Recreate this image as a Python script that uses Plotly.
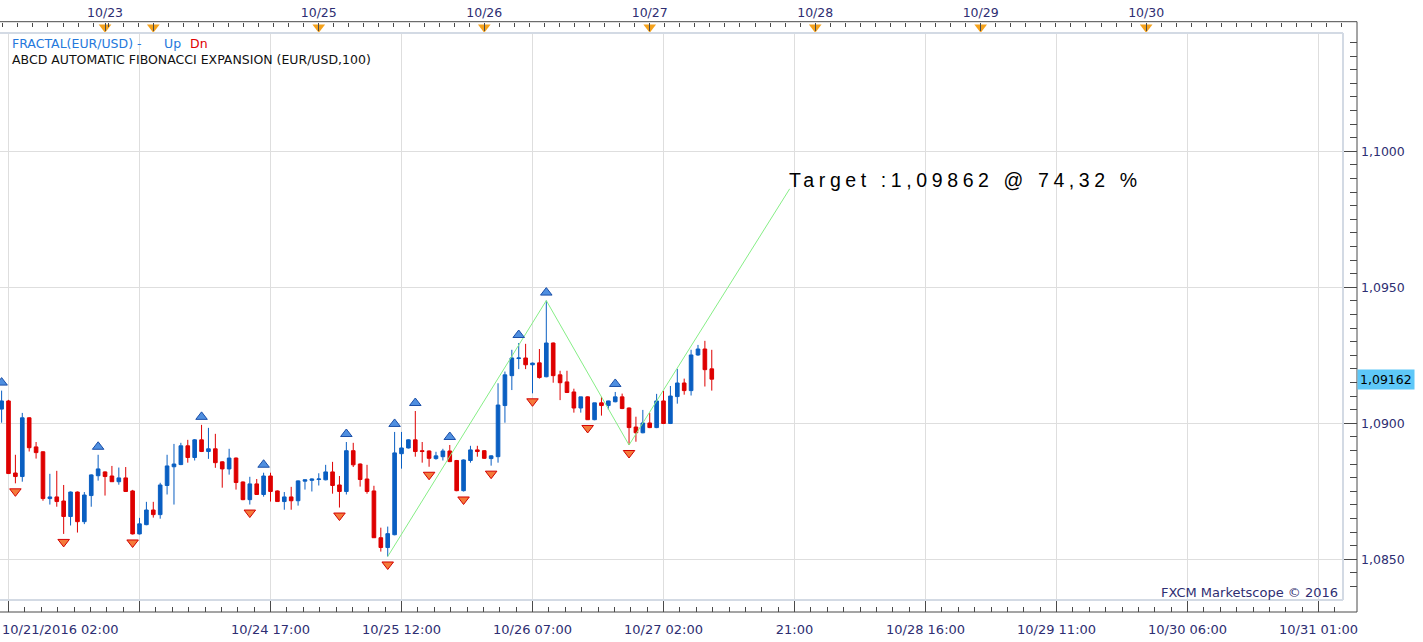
import plotly.graph_objects as go

# ---------------- data (hourly EUR/USD bars, weekend gap removed) ----------------
# bar index 0 = 10/21/2016 02:00
BAR_INDEX = list(range(-1, 103))
OPEN = [1.09052, 1.09082, 1.08817, 1.08804, 1.09020, 1.08913, 1.08895, 1.08723, 1.08729, 1.08714,
        1.08657, 1.08747, 1.08638, 1.08734, 1.08807, 1.08821, 1.08806, 1.08785, 1.08799, 1.08751,
        1.08593, 1.08627, 1.08681, 1.08664, 1.08771, 1.08840, 1.08848, 1.08917, 1.08874, 1.08939,
        1.08896, 1.08906, 1.08858, 1.08832, 1.08872, 1.08784, 1.08719, 1.08777, 1.08738, 1.08806,
        1.08751, 1.08712, 1.08729, 1.08715, 1.08787, 1.08790, 1.08793, 1.08792, 1.08821, 1.08773,
        1.08749, 1.08899, 1.08850, 1.08795, 1.08751, 1.08579, 1.08543, 1.08590, 1.08888, 1.08909,
        1.08939, 1.08899, 1.08898, 1.08870, 1.08877, 1.08898, 1.08863, 1.08752, 1.08863, 1.08902,
        1.08899, 1.08870, 1.08877, 1.09065, 1.09175, 1.09238, 1.09240, 1.09215, 1.09222, 1.09171,
        1.09295, 1.09178, 1.09152, 1.09115, 1.09056, 1.09097, 1.09013, 1.09075, 1.09065, 1.09079,
        1.09097, 1.09056, 1.08986, 1.08965, 1.09001, 1.08984, 1.09082, 1.08999, 1.09098, 1.09148,
        1.09120, 1.09251, 1.09273, 1.09200]
HIGH = [1.09120, 1.09086, 1.08884, 1.09038, 1.09022, 1.08931, 1.08897, 1.08814, 1.08825, 1.08773,
        1.08749, 1.08749, 1.08747, 1.08812, 1.08884, 1.08823, 1.08843, 1.08837, 1.08839, 1.08755,
        1.08652, 1.08711, 1.08711, 1.08781, 1.08884, 1.08924, 1.08928, 1.08939, 1.08942, 1.08994,
        1.08983, 1.08961, 1.08860, 1.08906, 1.08874, 1.08786, 1.08803, 1.08795, 1.08818, 1.08818,
        1.08753, 1.08747, 1.08766, 1.08790, 1.08793, 1.08797, 1.08816, 1.08847, 1.08858, 1.08806,
        1.08931, 1.08928, 1.08852, 1.08847, 1.08770, 1.08616, 1.08620, 1.08968, 1.08968, 1.08941,
        1.09045, 1.08931, 1.08900, 1.08895, 1.08906, 1.08920, 1.08865, 1.08867, 1.08917, 1.08917,
        1.08901, 1.08882, 1.09147, 1.09190, 1.09270, 1.09295, 1.09292, 1.09223, 1.09273, 1.09451,
        1.09297, 1.09193, 1.09193, 1.09127, 1.09097, 1.09099, 1.09075, 1.09097, 1.09083, 1.09115,
        1.09109, 1.09058, 1.09024, 1.09049, 1.09038, 1.09108, 1.09119, 1.09137, 1.09200, 1.09164,
        1.09270, 1.09288, 1.09303, 1.09270]
LOW = [1.09002, 1.08814, 1.08779, 1.08785, 1.08896, 1.08870, 1.08715, 1.08701, 1.08693, 1.08593,
       1.08624, 1.08598, 1.08629, 1.08693, 1.08789, 1.08734, 1.08785, 1.08774, 1.08748, 1.08591,
       1.08591, 1.08625, 1.08653, 1.08649, 1.08738, 1.08701, 1.08846, 1.08855, 1.08863, 1.08894,
       1.08869, 1.08836, 1.08763, 1.08811, 1.08756, 1.08717, 1.08701, 1.08736, 1.08730, 1.08712,
       1.08712, 1.08682, 1.08682, 1.08697, 1.08756, 1.08749, 1.08771, 1.08790, 1.08741, 1.08690,
       1.08738, 1.08839, 1.08767, 1.08741, 1.08578, 1.08528, 1.08510, 1.08588, 1.08833, 1.08907,
       1.08877, 1.08855, 1.08840, 1.08866, 1.08863, 1.08857, 1.08750, 1.08749, 1.08855, 1.08877,
       1.08869, 1.08844, 1.08855, 1.09002, 1.09122, 1.09199, 1.09199, 1.09110, 1.09164, 1.09169,
       1.09149, 1.09085, 1.09111, 1.09039, 1.09039, 1.09012, 1.09011, 1.09028, 1.09050, 1.09077,
       1.09052, 1.08920, 1.08932, 1.08963, 1.08982, 1.08982, 1.08997, 1.08997, 1.09072, 1.09105,
       1.09102, 1.09248, 1.09135, 1.09120]
CLOSE = [1.09082, 1.08815, 1.08804, 1.09020, 1.08910, 1.08892, 1.08723, 1.08729, 1.08712, 1.08657,
         1.08747, 1.08638, 1.08736, 1.08810, 1.08832, 1.08804, 1.08785, 1.08799, 1.08749, 1.08593,
         1.08630, 1.08681, 1.08664, 1.08773, 1.08843, 1.08850, 1.08917, 1.08874, 1.08939, 1.08896,
         1.08906, 1.08855, 1.08832, 1.08872, 1.08782, 1.08719, 1.08777, 1.08738, 1.08806, 1.08749,
         1.08712, 1.08729, 1.08715, 1.08788, 1.08792, 1.08795, 1.08795, 1.08821, 1.08771, 1.08749,
         1.08899, 1.08847, 1.08793, 1.08749, 1.08579, 1.08543, 1.08594, 1.08891, 1.08909, 1.08939,
         1.08896, 1.08896, 1.08871, 1.08880, 1.08898, 1.08859, 1.08752, 1.08865, 1.08902, 1.08896,
         1.08871, 1.08880, 1.09067, 1.09178, 1.09240, 1.09240, 1.09215, 1.09221, 1.09168, 1.09295,
         1.09175, 1.09149, 1.09113, 1.09056, 1.09097, 1.09013, 1.09075, 1.09065, 1.09082, 1.09097,
         1.09054, 1.08984, 1.08965, 1.09001, 1.08984, 1.09082, 1.08999, 1.09100, 1.09148, 1.09120,
         1.09251, 1.09273, 1.09197, 1.09162]

UP_FRACTAL_BARS = [-1, 13, 28, 37, 49, 56, 59, 64, 74, 78, 88]
DN_FRACTAL_BARS = [1, 8, 18, 35, 48, 55, 61, 66, 70, 76, 84, 90]

ABCD_X = [55, 78, 90, 113.3]
ABCD_Y = [1.08510, 1.09451, 1.08920, 1.09862]
TARGET_TEXT = "Target :1,09862 @ 74,32 %"

BOTTOM_TICKS = [0, 19, 38, 57, 76, 95, 114, 133, 152, 171, 190]
BOTTOM_LABELS = ["10/21/2016 02:00", "", "10/24 17:00", "10/25 12:00", "10/26 07:00",
                 "10/27 02:00", "21:00", "10/28 16:00", "10/29 11:00", "10/30 06:00", "10/31 01:00"]
TOP_TICKS = [14, 21, 45, 69, 93, 117, 141, 165]
TOP_LABELS = ["10/23", "", "10/25", "10/26", "10/27", "10/28", "10/29", "10/30"]
PRICE_TICKS = [1.085, 1.090, 1.095, 1.100]
PRICE_LABELS = ["1,0850", "1,0900", "1,0950", "1,1000"]
LAST_PRICE_LABEL = "1,09162"

# ---------------- styling / geometry ----------------
W, H = 1423, 642
PLOT_R, PLOT_T, PLOT_B = 1343, 33, 600
AX_TOP, AX_BOTTOM, AX_RIGHT = 21.7, 612, 1357
X_RANGE = [-1.233, 193.55]
Y_RANGE = [1.08350, 1.10435]

BLUE = "#0a5fc2"
RED = "#de0000"
NAVY = "#2e2e72"
AXIS_COL = "#4a4a4a"
GRID_COL = "#dedede"
BORDER_COL = "#d3dae4"
FONT = "DejaVu Sans"


def fx(p):
    return p / W


def fy(p):
    return 1 - p / H


ppp = (Y_RANGE[1] - Y_RANGE[0]) / (PLOT_B - PLOT_T)  # price per pixel

fig = go.Figure()

fig.add_trace(go.Candlestick(
    x=BAR_INDEX, open=OPEN, high=HIGH, low=LOW, close=CLOSE,
    increasing=dict(line=dict(color=BLUE, width=1), fillcolor=BLUE),
    decreasing=dict(line=dict(color=RED, width=1), fillcolor=RED),
    whiskerwidth=0, hoverinfo="skip", showlegend=False))

fig.add_trace(go.Scatter(
    x=ABCD_X, y=ABCD_Y, mode="lines", line=dict(color="#86ee86", width=1),
    hoverinfo="skip", showlegend=False))

pos = {b: i for i, b in enumerate(BAR_INDEX)}
fig.add_trace(go.Scatter(
    x=UP_FRACTAL_BARS, y=[HIGH[pos[b]] + 8 * ppp for b in UP_FRACTAL_BARS],
    mode="markers", marker=dict(symbol="triangle-up", size=10, color="#4f8fe0",
                                line=dict(color="#1b4fa8", width=1)),
    hoverinfo="skip", showlegend=False))
fig.add_trace(go.Scatter(
    x=DN_FRACTAL_BARS, y=[LOW[pos[b]] - 8 * ppp for b in DN_FRACTAL_BARS],
    mode="markers", marker=dict(symbol="triangle-down", size=10, color="#f47a3a",
                                line=dict(color="#d40000", width=1)),
    hoverinfo="skip", showlegend=False))

# day markers on the top time axis
fig.add_trace(go.Scatter(
    x=TOP_TICKS, y=[0.5] * len(TOP_TICKS), xaxis="x3", yaxis="y3", mode="markers",
    marker=dict(symbol="triangle-down", size=11, color="#f5a21c"),
    hoverinfo="skip", showlegend=False))

# helper traces so the decoration axes are drawn
fig.add_trace(go.Scatter(x=[BOTTOM_TICKS[0]], y=[PRICE_TICKS[0]], xaxis="x2", yaxis="y",
                         mode="markers", opacity=0, hoverinfo="skip", showlegend=False))
fig.add_trace(go.Scatter(x=[BOTTOM_TICKS[0]], y=[PRICE_TICKS[0]], xaxis="x", yaxis="y2",
                         mode="markers", opacity=0, hoverinfo="skip", showlegend=False))

tickfont = dict(family=FONT, size=12.5, color=NAVY)
bottomfont = dict(family=FONT, size=13, color=NAVY)
x_domain = [0, fx(PLOT_R)]
y_domain = [fy(PLOT_B), fy(PLOT_T)]

fig.update_layout(
    width=W, height=H, template="none",
    margin=dict(l=0, r=0, t=0, b=0, pad=0),
    paper_bgcolor="white", plot_bgcolor="white",
    showlegend=False, boxgap=0.25, hovermode=False,
    xaxis=dict(domain=x_domain, range=X_RANGE, tickvals=BOTTOM_TICKS, showticklabels=False,
               ticks="", showgrid=True, gridcolor=GRID_COL, gridwidth=1, zeroline=False,
               showline=False, rangeslider=dict(visible=False), automargin=False, fixedrange=True),
    yaxis=dict(domain=y_domain, range=Y_RANGE, tickvals=PRICE_TICKS, showticklabels=False,
               ticks="", showgrid=True, gridcolor=GRID_COL, gridwidth=1, zeroline=False,
               showline=False, automargin=False, fixedrange=True),
    xaxis2=dict(overlaying="x", anchor="free", position=fy(AX_BOTTOM), side="bottom",
                range=X_RANGE, tickvals=BOTTOM_TICKS, ticktext=[""] + BOTTOM_LABELS[1:],
                ticks="inside", ticklen=12, tickcolor=AXIS_COL, tickwidth=1,
                minor=dict(ticks="inside", ticklen=5, dtick=19 / 8, tick0=0,
                           tickcolor=AXIS_COL, showgrid=False),
                tickfont=bottomfont, ticklabelstandoff=8, showgrid=False, zeroline=False,
                showline=False, automargin=False, fixedrange=True),
    xaxis3=dict(anchor="free", position=fy(AX_TOP), side="top", domain=x_domain,
                range=X_RANGE, tickvals=TOP_TICKS, ticktext=TOP_LABELS,
                ticks="inside", ticklen=8, tickcolor=AXIS_COL, tickwidth=1,
                minor=dict(ticks="inside", ticklen=4, dtick=24 / 11, tick0=21,
                           tickcolor=AXIS_COL, showgrid=False),
                tickfont=tickfont, ticklabelstandoff=2, showgrid=False, zeroline=False,
                showline=False, automargin=False, fixedrange=True),
    yaxis3=dict(domain=[fy(PLOT_T), fy(AX_TOP)], range=[0, 1], anchor="x3",
                visible=False, fixedrange=True),
    yaxis2=dict(overlaying="y", anchor="free", position=fx(AX_RIGHT), side="right",
                range=Y_RANGE, tickvals=PRICE_TICKS, ticktext=PRICE_LABELS,
                ticks="inside", ticklen=14, tickcolor=AXIS_COL, tickwidth=1,
                minor=dict(ticks="inside", ticklen=7, dtick=0.0005, tick0=1.08,
                           tickcolor=AXIS_COL, showgrid=False),
                tickfont=tickfont, ticklabelstandoff=3, showgrid=False, zeroline=False,
                showline=False, automargin=False, fixedrange=True),
)

shapes = [
    # plot-area frame
    dict(type="line", xref="paper", yref="paper", x0=0, x1=fx(PLOT_R), y0=fy(PLOT_T), y1=fy(PLOT_T),
         line=dict(color=BORDER_COL, width=2)),
    dict(type="line", xref="paper", yref="paper", x0=0, x1=fx(PLOT_R), y0=fy(PLOT_B), y1=fy(PLOT_B),
         line=dict(color=BORDER_COL, width=2)),
    dict(type="line", xref="paper", yref="paper", x0=fx(PLOT_R), x1=fx(PLOT_R), y0=fy(PLOT_B), y1=fy(PLOT_T),
         line=dict(color=BORDER_COL, width=2)),
    # axis lines
    dict(type="line", xref="paper", yref="paper", x0=0, x1=fx(AX_RIGHT), y0=fy(AX_TOP), y1=fy(AX_TOP),
         line=dict(color=AXIS_COL, width=1)),
    dict(type="line", xref="paper", yref="paper", x0=0, x1=fx(AX_RIGHT), y0=fy(AX_BOTTOM), y1=fy(AX_BOTTOM),
         line=dict(color=AXIS_COL, width=1)),
    dict(type="line", xref="paper", yref="paper", x0=fx(AX_RIGHT), x1=fx(AX_RIGHT), y0=fy(AX_BOTTOM), y1=fy(AX_TOP),
         line=dict(color=AXIS_COL, width=1)),
]
fig.update_layout(shapes=shapes)

ann = []
# first bottom label is drawn left-aligned at the chart edge
ann.append(dict(xref="paper", yref="paper", x=0, y=fy(629.5), xanchor="left", yanchor="middle",
                text=BOTTOM_LABELS[0], showarrow=False, font=bottomfont))
# indicator legend
legend_font = dict(family=FONT, size=12.5)
ann.append(dict(xref="paper", yref="paper", x=fx(10), y=fy(43.3), xanchor="left", yanchor="middle",
                text="FRACTAL(EUR/USD) -", showarrow=False, font=dict(legend_font, color="#2478dc")))
ann.append(dict(xref="paper", yref="paper", x=fx(162), y=fy(43.3), xanchor="left", yanchor="middle",
                text="Up", showarrow=False, font=dict(legend_font, color="#2478dc")))
ann.append(dict(xref="paper", yref="paper", x=fx(188), y=fy(43.3), xanchor="left", yanchor="middle",
                text="Dn", showarrow=False, font=dict(legend_font, color="#e00000")))
ann.append(dict(xref="paper", yref="paper", x=fx(10), y=fy(59.3), xanchor="left", yanchor="middle",
                text="ABCD AUTOMATIC FIBONACCI EXPANSION (EUR/USD,100)", showarrow=False,
                font=dict(legend_font, color="#111111")))
# target label at the projected D point
ann.append(dict(xref="x", yref="y", x=ABCD_X[-1], y=ABCD_Y[-1], xanchor="left", yanchor="middle",
                yshift=9, xshift=-3, text='<span style="letter-spacing:4.6px">' + TARGET_TEXT + "</span>",
                showarrow=False, font=dict(family="Liberation Sans", size=19.5, color="#000000")))
# last price box on the price axis
ann.append(dict(xref="paper", yref="y", x=fx(AX_RIGHT), y=CLOSE[-1], xanchor="left", yanchor="middle",
                text=LAST_PRICE_LABEL, showarrow=False, bgcolor="#5ec8f8", borderpad=2,
                font=dict(family=FONT, size=12.5, color="#000000")))
# watermark
ann.append(dict(xref="paper", yref="paper", x=fx(1340), y=fy(592), xanchor="right", yanchor="middle",
                text="FXCM Marketscope © 2016", showarrow=False,
                font=dict(family=FONT, size=13, color=NAVY)))
fig.update_layout(annotations=ann)

fig.write_html("out.html")
